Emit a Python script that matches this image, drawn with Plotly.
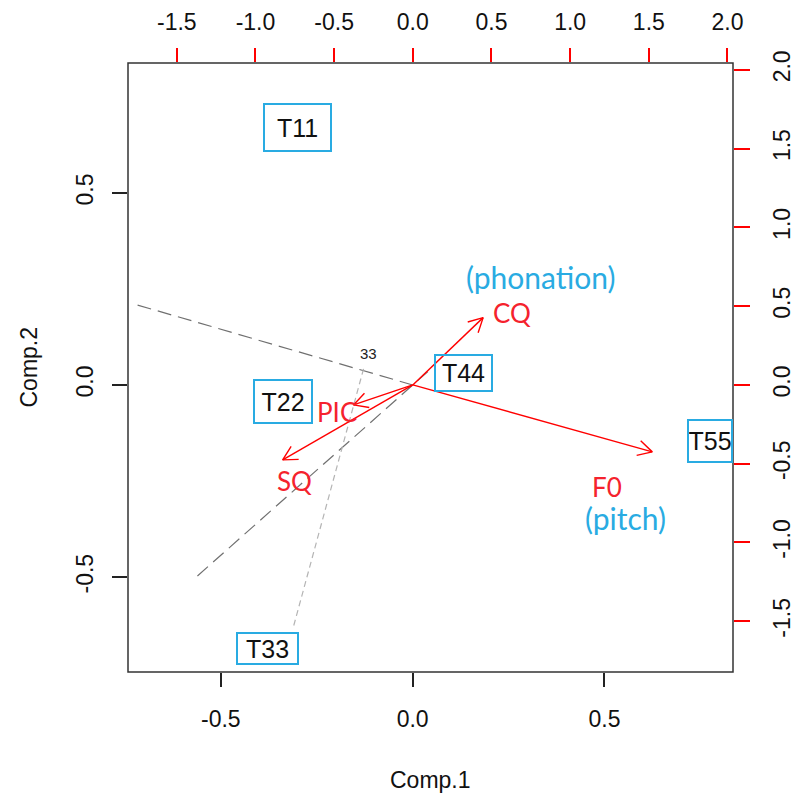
import math
import plotly.graph_objects as go

# ---- data -------------------------------------------------------------
# observation scores (bottom / left axes)
score_labels = ["T11", "T22", "T33", "T44", "T55"]
score_x = [-0.300, -0.337, -0.378, 0.132, 0.775]
score_y = [0.669, -0.042, -0.685, 0.031, -0.146]

# variable loadings (top / right axes)
load_labels = ["CQ", "F0", "SQ", "PIC"]
load_x = [0.447, 1.522, -0.827, -0.377]
load_y = [0.427, -0.425, -0.476, -0.127]

# auxiliary dashed guide segments (score units)
guide_a_x = [-0.717, 0.0]
guide_a_y = [0.208, 0.0]
guide_b_x = [-0.561, 0.041]
guide_b_y = [-0.497, 0.036]
guide_c_x = [-0.128, -0.311]
guide_c_y = [0.042, -0.630]
guide_c_label = "33"

x_ticks = [-0.5, 0.0, 0.5]
y_ticks = [-0.5, 0.0, 0.5]
top_ticks = [-1.5, -1.0, -0.5, 0.0, 0.5, 1.0, 1.5, 2.0]

# ---- layout geometry ---------------------------------------------------
W, H = 796, 801
ML, MR, MT, MB = 128, 63, 63, 129
PW, PH = W - ML - MR, H - MT - MB

x_range = [-0.742, 0.835]
y_range = [-0.747, 0.838]
x2_range = [-1.810, 2.035]
y2_range = [-1.822, 2.043]

sx2 = PW / (x2_range[1] - x2_range[0])
sy2 = PH / (y2_range[1] - y2_range[0])

RED = "#ff0000"
BLUE = "#29abe2"
TICK_FONT = dict(family="Liberation Sans, Arial", size=23, color="#111111")

fig = go.Figure()

# dashed guides
fig.add_trace(go.Scatter(x=guide_a_x, y=guide_a_y, mode="lines",
                         line=dict(color="#707070", width=1.2, dash="14px,7px"),
                         hoverinfo="skip", showlegend=False))
fig.add_trace(go.Scatter(x=guide_b_x, y=guide_b_y, mode="lines",
                         line=dict(color="#707070", width=1.2, dash="14px,7px"),
                         hoverinfo="skip", showlegend=False))
fig.add_trace(go.Scatter(x=guide_c_x, y=guide_c_y, mode="lines",
                         line=dict(color="#b4b4b4", width=1.2, dash="6px,4px"),
                         hoverinfo="skip", showlegend=False))

# loading arrows with open V heads
HEAD_LEN = 16
HEAD_ANG = math.radians(28)
for lx, ly in zip(load_x, load_y):
    ang = math.atan2(ly * sy2, lx * sx2)
    hx, hy = [], []
    for s in (1, -1):
        a = ang + math.pi + s * HEAD_ANG
        hx.append(lx + HEAD_LEN * math.cos(a) / sx2)
        hy.append(ly + HEAD_LEN * math.sin(a) / sy2)
    fig.add_trace(go.Scatter(
        x=[0, lx, None, hx[0], lx, hx[1]],
        y=[0, ly, None, hy[0], ly, hy[1]],
        mode="lines", line=dict(color=RED, width=1.4),
        xaxis="x2", yaxis="y2", hoverinfo="skip", showlegend=False))

annotations = []

# boxed observation labels
box_sizes = {"T11": (69, 49), "T22": (60, 45), "T33": (63, 33),
             "T44": (59, 38), "T55": (46, 44)}
for lab, x, y in zip(score_labels, score_x, score_y):
    bw, bh = box_sizes[lab]
    annotations.append(dict(
        x=x, y=y, xref="x", yref="y", text=lab, showarrow=False,
        font=dict(family="Liberation Sans, Arial", size=25, color="#111111"),
        bordercolor=BLUE, borderwidth=2, borderpad=0,
        width=bw - 4, height=bh - 4, align="center", valign="middle"))

# small label on the light guide
annotations.append(dict(
    x=-0.115, y=0.081, xref="x", yref="y", text=guide_c_label, showarrow=False,
    font=dict(family="Liberation Sans, Arial", size=15, color="#222222")))

# variable labels next to arrow tips
label_shift = {"CQ": (29, 5), "F0": (-45, -35), "SQ": (12, -21), "PIC": (-16, -7)}
for lab, x, y in zip(load_labels, load_x, load_y):
    dx, dy = label_shift[lab]
    annotations.append(dict(
        x=x, y=y, xref="x2", yref="y2", text=lab, showarrow=False,
        xshift=dx, yshift=dy,
        font=dict(family="Lato, Open Sans", size=26, color="#f5222d")))

# descriptive notes
notes = {"CQ": ("(phonation)", 58, 41), "F0": ("(pitch)", -27, -66)}
for lab, x, y in zip(load_labels, load_x, load_y):
    if lab in notes:
        txt, dx, dy = notes[lab]
        annotations.append(dict(
            x=x, y=y, xref="x2", yref="y2", text=txt, showarrow=False,
            xshift=dx, yshift=dy,
            font=dict(family="Lato, Open Sans", size=30, color=BLUE)))

# axis titles
annotations.append(dict(x=0.5, y=0, xref="paper", yref="paper", text="Comp.1",
                        showarrow=False, yanchor="middle", yshift=-108,
                        font=TICK_FONT))
annotations.append(dict(x=0, y=0.5, xref="paper", yref="paper", text="Comp.2",
                        showarrow=False, xanchor="center", xshift=-100,
                        textangle=-90, font=TICK_FONT))

fmt = lambda v: f"{v:.1f}"

common = dict(showgrid=False, zeroline=False, showline=False,
              tickfont=TICK_FONT, fixedrange=True, automargin=False,
              ticks="outside", tickwidth=1.5)

fig.update_layout(
    width=W, height=H,
    margin=dict(l=ML, r=MR, t=MT, b=MB, pad=0, autoexpand=False),
    paper_bgcolor="white", plot_bgcolor="white",
    showlegend=False,
    xaxis=dict(range=x_range, tickvals=x_ticks, ticktext=[fmt(v) for v in x_ticks],
               ticklen=14, tickcolor="#222222", ticklabelstandoff=12, **common),
    yaxis=dict(range=y_range, tickvals=y_ticks, ticktext=[fmt(v) for v in y_ticks],
               ticklen=15, tickcolor="#222222", ticklabelstandoff=10,
               tickangle=-90, **common),
    xaxis2=dict(range=x2_range, overlaying="x", side="top", anchor="y",
                tickvals=top_ticks, ticktext=[fmt(v) for v in top_ticks],
                ticklen=14, tickcolor=RED, ticklabelstandoff=9, **common),
    yaxis2=dict(range=y2_range, overlaying="y", side="right", anchor="x",
                tickvals=top_ticks, ticktext=[fmt(v) for v in top_ticks],
                ticklen=16, tickcolor=RED, ticklabelstandoff=12,
                tickangle=-90, **common),
    annotations=annotations,
    shapes=[dict(type="rect", xref="paper", yref="paper", x0=0, x1=1, y0=0, y1=1,
                 line=dict(color="#333333", width=1.5), layer="above")],
)

fig.write_html("out.html")
